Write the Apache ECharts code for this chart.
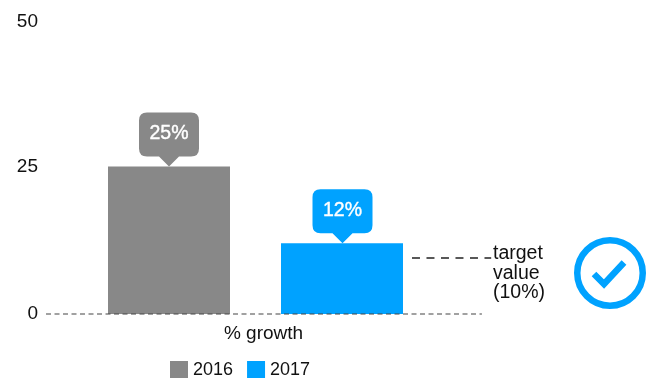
<!DOCTYPE html>
<html><head><meta charset="utf-8">
<style>html,body{margin:0;padding:0;background:#fff}#c{width:652px;height:378px}</style>
<script src="https://cdn.jsdelivr.net/npm/echarts@6/dist/echarts.min.js"></script>
</head><body><div id="c"></div>
<script>
const categories = ['% growth'];
const yTicks = [0, 25, 50];
const values2016 = [25];
const values2017 = [12];
const targetDrawn = 9.5;
const baselineSpan = [0.0716, 0.963];
const targetSpan = [0.82, 0.982];
const targetLines = ['target', 'value', '(10%)'];
const GREY = '#888888', BLUE = '#00A2FF';
const FONT = '"Liberation Sans", Arial, sans-serif';
const bubble = 'path://M8 0H52Q60 0 60 8V36Q60 44 52 44H40L30 54L20 44H8Q0 44 0 36V8Q0 0 8 0Z';

function callout(name, data, color, dx) {
  return {
    name, type: 'scatter', xAxisIndex: 0, data, z: 5, silent: true,
    symbol: bubble, symbolSize: [60, 54], symbolOffset: [dx, '-50%'],
    itemStyle: { color, opacity: 1 },
    label: { show: true, position: 'inside', offset: [0, -5.5], color: '#fff',
      fontFamily: FONT, fontSize: 19.5, textBorderColor: '#fff', textBorderWidth: 0.4,
      formatter: p => p.value + '%' }
  };
}
function dashLine(name, span, y, color, width, dash) {
  return {
    name, type: 'line', xAxisIndex: 1, data: span.map(x => [x, y]), symbol: 'none',
    silent: true, z: 6, clip: false,
    lineStyle: { color, width, type: dash }
  };
}
const chart = echarts.init(document.getElementById('c'), null, { renderer: 'canvas' });
chart.setOption({
  animation: false,
  backgroundColor: '#fff',
  textStyle: { fontFamily: FONT },
  grid: { left: 11, right: 152, top: 19, height: 295 },
  legend: {
    left: 170, top: 361, itemWidth: 18, itemHeight: 18, itemGap: 14, padding: 0,
    data: [{ name: '2016', icon: 'rect' }, { name: '2017', icon: 'rect' }],
    selectedMode: false,
    textStyle: { fontFamily: FONT, fontSize: 18, color: '#111', padding: [2, 0, 0, 0] }
  },
  xAxis: [
    { type: 'category', data: categories,
      axisLine: { show: false }, axisTick: { show: false },
      axisLabel: { fontFamily: FONT, fontSize: 19, color: '#111', margin: 10, padding: [0, 0, 0, 16] } },
    { type: 'value', min: 0, max: 1, show: false }
  ],
  yAxis: {
    type: 'value', min: yTicks[0], max: yTicks[2], interval: yTicks[1],
    splitLine: { show: false }, axisLine: { show: false }, axisTick: { show: false },
    axisLabel: { fontFamily: FONT, fontSize: 19, color: '#111', margin: -27,
      formatter: v => v === yTicks[2] ? '{m|' + v + '}' : '' + v,
      rich: { m: { fontFamily: FONT, fontSize: 19, color: '#111', padding: [6, 0, 0, 0] } } }
  },
  series: [
    { name: '2016', type: 'bar', xAxisIndex: 0, data: values2016, barWidth: 122, barGap: '41.8%', itemStyle: { color: GREY } },
    { name: '2017', type: 'bar', xAxisIndex: 0, data: values2017, barWidth: 122, itemStyle: { color: BLUE } },
    callout('c2016', values2016, GREY, -86.5),
    callout('c2017', values2017, BLUE, 87),
    dashLine('baseline', baselineSpan, yTicks[0], '#444', 1.1, [5, 3.5]),
    dashLine('target', targetSpan, targetDrawn, '#222', 1.4, [8, 6.5])
  ],
  graphic: [
    ...targetLines.map((t, i) => ({
      type: 'text', left: 493, top: 244 + i * 19.5,
      style: { text: t, font: '19.5px ' + FONT, fill: '#111' }
    })),
    { type: 'circle', shape: { cx: 610, cy: 273, r: 32.75 },
      style: { fill: 'none', stroke: BLUE, lineWidth: 6.5 } },
    { type: 'polyline', shape: { points: [[594, 274], [604, 284], [624, 262.5]] },
      style: { fill: 'none', stroke: BLUE, lineWidth: 6.5 } }
  ]
});
</script></body></html>
